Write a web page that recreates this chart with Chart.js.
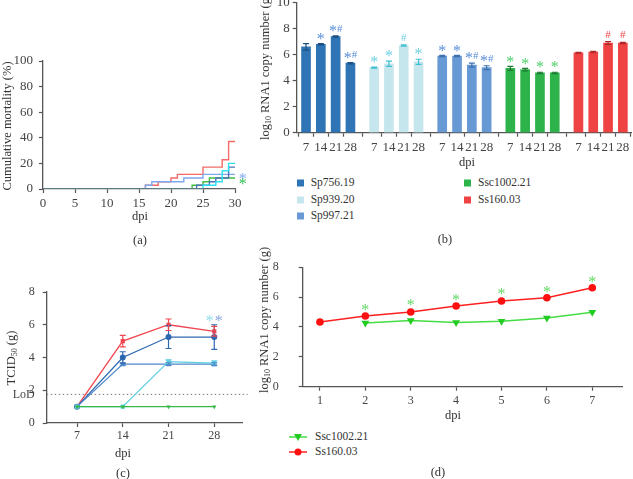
<!DOCTYPE html>
<html>
<head>
<meta charset="utf-8">
<script src="https://cdn.jsdelivr.net/npm/chart.js@4.4.1/dist/chart.umd.min.js"></script>
<style>
  body { margin: 0; width: 633px; height: 479px; overflow: hidden; position: relative; background: #fff;
         font-family: "Liberation Serif", "DejaVu Serif", serif; color: #333; }
  canvas { position: absolute; }
  .t { position: absolute; white-space: nowrap; font-size: 12.5px; transform: translate(-50%, -50%); line-height: 1; }
  .rot { transform: translate(-50%, -50%) rotate(-90deg); }
  .t sub { font-size: 8px; vertical-align: -2px; }
  .leg { position: absolute; font-size: 11.5px; white-space: nowrap; line-height: 1; transform: translateY(-50%); }
  .sq { position: absolute; width: 7px; height: 7px; transform: translateY(-50%); }
</style>
</head>
<body>
<canvas id="chartA" width="250" height="185" style="left:0;top:45px"></canvas>
<canvas id="chartB" width="383" height="180" style="left:250px;top:-10px"></canvas>
<canvas id="chartC" width="250" height="180" style="left:0;top:270px"></canvas>
<canvas id="chartD" width="373" height="175" style="left:260px;top:240px"></canvas>

<!-- axis titles and panel labels -->
<div class="t rot" style="left:7px;top:126px">Cumulative mortality (%)</div>
<div class="t" style="left:140px;top:216px">dpi</div>
<div class="t" style="left:140px;top:240px">(a)</div>

<div class="t rot" style="left:266px;top:67px">log<sub>10</sub> RNA1 copy number (g)</div>
<div class="t" style="left:467px;top:162px">dpi</div>
<div class="t" style="left:445px;top:239px">(b)</div>

<div class="t rot" style="left:12px;top:358px">TCID<sub>50</sub> (g)</div>
<div class="t" style="left:123px;top:453px">dpi</div>
<div class="t" style="left:123px;top:473px">(c)</div>

<div class="t rot" style="left:265px;top:320px">log<sub>10</sub> RNA1 copy number (g)</div>
<div class="t" style="left:453px;top:415px">dpi</div>
<div class="t" style="left:438px;top:472px">(d)</div>

<div id="legendB"></div>
<div id="legendD"></div>

<script>
// ---- data ----
// (a) cumulative mortality, step points (day, %)
const mortCtrlDays = [0, 30];
const mortCtrlVals = [0, 0];
const mortSsDays = [0, 16, 18, 20, 21, 25, 28, 29, 30];
const mortSsVals = [0, 2.9, 5.7, 8.6, 11.4, 17.1, 22.9, 37.1, 37.1];
const mortSp997Days = [0, 16, 17, 22, 25, 30];
const mortSp997Vals = [0, 2.9, 5.7, 8.6, 11.4, 11.4];
const mortSp756Days = [0, 24, 26, 27, 29, 30];
const mortSp756Vals = [0, 2.9, 5.7, 8.6, 17.1, 17.1];
const mortSp939Days = [0, 25, 27, 28, 29, 30];
const mortSp939Vals = [0, 2.9, 5.7, 14.3, 20.0, 20.0];
const mortSscDays = [0, 23.3, 25, 26, 30];
const mortSscVals = [0, 2.9, 5.7, 8.6, 8.6];
const mortStarVals = [9.9, 5.7];   // blue and green asterisks at day 31

// (b) RNA1 copies per strain at 7/14/21/28 dpi
const strains = ['Sp756.19', 'Sp939.20', 'Sp997.21', 'Ssc1002.21', 'Ss160.03'];
const bDays = ['7', '14', '21', '28'];
const bSp756 = [6.6, 6.8, 7.4, 5.35];
const bSp756Err = [0.25, 0.05, 0.05, 0.05];
const bSp939 = [5.0, 5.3, 6.7, 5.45];
const bSp939Err = [0.04, 0.2, 0.05, 0.2];
const bSp997 = [5.9, 5.9, 5.2, 5.0];
const bSp997Err = [0.05, 0.05, 0.15, 0.15];
const bSsc = [4.95, 4.85, 4.6, 4.6];
const bSscErr = [0.15, 0.1, 0.05, 0.05];
const bSs = [6.15, 6.2, 6.9, 6.9];
const bSsErr = [0.03, 0.05, 0.1, 0.05];
const bSp756Marks = ['', '*', '*#', '*#'];
const bSp939Marks = ['*', '*', '#', '*'];
const bSp997Marks = ['*', '*', '*#', '*#'];
const bSscMarks = ['*', '*', '*', '*'];
const bSsMarks = ['', '', '#', '#'];

// (c) TCID50
const cDays = [7, 14, 21, 28];
const cSs = [1, 5.0, 6.0, 5.6];
const cSsErr = [0, 0.35, 0.35, 0.3];
const cSp756 = [1, 4.0, 5.25, 5.25];
const cSp756Err = [0, 0.35, 0.7, 0.75];
const cSp997 = [1, 3.6, 3.6, 3.6];
const cSp997Err = [0, 0.08, 0.08, 0.08];
const cSp939 = [1, 1, 3.75, 3.65];
const cSp939Err = [0, 0, 0.1, 0.15];
const cSsc = [1, 1, 1, 1];
const cLoD = 1.75;
const cStarVal = 6.35;

// (d) RNA1 copies, days 1-7
const dDays = [1, 2, 3, 4, 5, 6, 7];
const dSsc = [null, 4.27, 4.44, 4.29, 4.38, 4.6, 4.98];
const dSs = [4.33, 4.73, 5.0, 5.4, 5.74, 5.95, 6.62];
const dStars = [null, 5.3, 5.61, 5.97, 6.32, 6.51, 7.18];

// ---- common styling ----
Chart.defaults.font.family = '"Liberation Serif", "DejaVu Serif", serif';
Chart.defaults.color = '#444';
Chart.defaults.animation = false;
const AXIS = '#555';

function pts(xs, ys) {
  return xs.map((x, i) => ({ x: x, y: ys[i] }));
}

// linear axis with fixed box size so the plot area lands where we want it
function axis(o) {
  return {
    type: 'linear',
    min: o.min, max: o.max,
    offset: false,
    afterFit: s => { if (o.width) s.width = o.width; if (o.height) s.height = o.height; },
    afterBuildTicks: o.tickVals ? (s => { s.ticks = o.tickVals.map(v => ({ value: v })); }) : undefined,
    ticks: {
      stepSize: o.step, padding: o.pad, font: { size: o.font || 13 }, autoSkip: false, maxRotation: 0,
      callback: o.labels ? ((v, i) => o.labels[i]) : (v => v)
    },
    grid: { display: true, drawOnChartArea: false, drawTicks: true, tickLength: 4, tickWidth: 1.2, tickColor: AXIS },
    border: { display: true, color: AXIS, width: 1.3 }
  };
}

// asterisks drawn bigger than the '#' so they read like the figure
function drawMark(ctx, text, x, y, color) {
  ctx.save();
  ctx.fillStyle = color;
  ctx.textBaseline = 'middle';
  ctx.textAlign = 'left';
  const chars = text.split('');
  const fonts = chars.map(c => c === '*' ? '16px "Liberation Serif", serif' : '11px "Liberation Serif", serif');
  const widths = chars.map((c, i) => { ctx.font = fonts[i]; return ctx.measureText(c).width; });
  let cx = x - widths.reduce((a, b) => a + b, 0) / 2;
  chars.forEach((c, i) => {
    ctx.font = fonts[i];
    ctx.fillText(c, cx, c === '*' ? y + 3 : y);
    cx += widths[i];
  });
  ctx.restore();
}

// error bars + text marks from dataset.errors / dataset.marks
const errorBars = {
  id: 'errorBars',
  afterDatasetsDraw(chart) {
    const ctx = chart.ctx, ys = chart.scales.y;
    chart.data.datasets.forEach((ds, i) => {
      const meta = chart.getDatasetMeta(i);
      meta.data.forEach((el, j) => {
        const p = ds.data[j];
        if (!p || p.y == null) return;
        const e = ds.errors ? ds.errors[j] : 0;
        const top = ys.getPixelForValue(p.y + e);
        if (e) {
          const bot = ys.getPixelForValue(p.y - e);
          ctx.save();
          ctx.strokeStyle = ds.errorColor || ds.borderColor;
          ctx.lineWidth = 1.2;
          ctx.beginPath();
          ctx.moveTo(el.x, top); ctx.lineTo(el.x, bot);
          ctx.moveTo(el.x - 3, top); ctx.lineTo(el.x + 3, top);
          ctx.moveTo(el.x - 3, bot); ctx.lineTo(el.x + 3, bot);
          ctx.stroke();
          ctx.restore();
        }
        if (ds.marks && ds.marks[j]) {
          drawMark(ctx, ds.marks[j], el.x, top - 7, ds.markColor);
        }
      });
    });
  }
};

// ---- (a) cumulative mortality ----
function stepSet(days, vals, color) {
  return { data: pts(days, vals), borderColor: color, borderWidth: 1.4, pointRadius: 0, stepped: true, fill: false };
}
new Chart(document.getElementById('chartA'), {
  type: 'line',
  data: {
    datasets: [
      stepSet(mortCtrlDays, mortCtrlVals, '#666'),
      stepSet(mortSp939Days, mortSp939Vals, '#2fe0f0'),
      stepSet(mortSp756Days, mortSp756Vals, '#4d72b8'),
      stepSet(mortSp997Days, mortSp997Vals, '#7ea8ee'),
      stepSet(mortSsDays, mortSsVals, '#f46a6a'),
      stepSet(mortSscDays, mortSscVals, '#3cc040')
    ]
  },
  options: {
    responsive: false,
    layout: { padding: { left: 0, right: 15, top: 16, bottom: 21 } },
    plugins: { legend: { display: false }, tooltip: { enabled: false } },
    scales: {
      x: axis({ min: 0, max: 30, step: 5, pad: 3, height: 20 }),
      y: axis({ min: 0, max: 100, step: 20, pad: 6, width: 43 })
    }
  },
  plugins: [{
    id: 'mortStars',
    afterDraw(chart) {
      const x = chart.scales.x.getPixelForValue(31.2), y = chart.scales.y;
      drawMark(chart.ctx, '*', x, y.getPixelForValue(mortStarVals[0]), '#86a8ee');
      drawMark(chart.ctx, '*', x, y.getPixelForValue(mortStarVals[1]), '#33bb55');
    }
  }]
});

// ---- (b) bars ----
const GROUP_STEP = 4.6;
const bColors = ['#2f74b5', '#c6e6ee', '#6799d5', '#2db34a', '#ef4242'];
const bMarkColors = ['#5b8fd8', '#6fd0e2', '#5b8fd8', '#4fcf6a', '#ee4444'];
const bErrColors = ['#1f4f80', '#3cbfd0', '#3d6fae', '#1d7a33', '#b02828'];
const bVals = [bSp756, bSp939, bSp997, bSsc, bSs];
const bErrs = [bSp756Err, bSp939Err, bSp997Err, bSscErr, bSsErr];
const bMarks = [bSp756Marks, bSp939Marks, bSp997Marks, bSscMarks, bSsMarks];
const bPos = [];
strains.forEach((s, g) => bDays.forEach((d, j) => bPos.push(g * GROUP_STEP + j)));

new Chart(document.getElementById('chartB'), {
  type: 'bar',
  data: {
    datasets: strains.map((s, g) => ({
      label: s,
      data: bDays.map((d, j) => ({ x: g * GROUP_STEP + j, y: bVals[g][j] })),
      backgroundColor: bColors[g],
      borderColor: bColors[g],
      errors: bErrs[g],
      errorColor: bErrColors[g],
      marks: bMarks[g],
      markColor: bMarkColors[g],
      barThickness: 9,
      grouped: false
    }))
  },
  options: {
    responsive: false,
    layout: { padding: { left: 0, right: 2, top: 12.7, bottom: 17.3 } },
    plugins: { legend: { display: false }, tooltip: { enabled: false } },
    scales: {
      x: axis({ min: -0.63, max: 21.95, pad: 3, height: 20, tickVals: bPos,
                labels: bPos.map((p, i) => bDays[i % 4]) }),
      y: axis({ min: 0, max: 10, step: 2, pad: 3, width: 46.7 })
    }
  },
  plugins: [errorBars]
});

// legend for (b), two columns
const legB = document.getElementById('legendB');
const legRows = [[296.7, 183], [296.7, 199.5], [296.7, 216], [464, 183], [464, 199.5]];
strains.forEach((s, i) => {
  const [lx, ly] = legRows[i];
  legB.innerHTML += '<div class="sq" style="left:' + lx + 'px;top:' + ly + 'px;background:' + bColors[i] + '"></div>' +
    '<div class="leg" style="left:' + (lx + 14) + 'px;top:' + ly + 'px">' + s + '</div>';
});

// ---- (c) TCID50 ----
function lineSet(vals, errs, color, style, radius) {
  return {
    data: pts(cDays, vals), errors: errs, borderColor: color, backgroundColor: color, borderWidth: 1.3,
    pointStyle: style, pointRadius: radius, pointBorderWidth: 0, pointRotation: style === 'triangle' ? 180 : 0
  };
}
new Chart(document.getElementById('chartC'), {
  type: 'line',
  data: {
    datasets: [
      lineSet(cSsc, null, '#36b84a', 'triangle', 2.5),
      lineSet(cSp939, cSp939Err, '#62cfe2', 'rect', 3),
      lineSet(cSp997, cSp997Err, '#4f86c8', 'rect', 3),
      lineSet(cSp756, cSp756Err, '#2d68b0', 'circle', 3),
      lineSet(cSs, cSsErr, '#f04650', 'rect', 3)
    ]
  },
  options: {
    responsive: false,
    layout: { padding: { left: 0, right: 7.3, top: 22, bottom: 7 } },
    plugins: { legend: { display: false }, tooltip: { enabled: false } },
    scales: {
      x: axis({ min: 2.36, max: 32.35, pad: 2, height: 20, font: 12, tickVals: cDays }),
      y: axis({ min: 0, max: 8, step: 2, pad: 8, width: 46.7, font: 12 })
    }
  },
  plugins: [errorBars, {
    id: 'lod',
    beforeDatasetsDraw(chart) {
      const ctx = chart.ctx, a = chart.chartArea;
      const y = chart.scales.y.getPixelForValue(cLoD);
      ctx.save();
      ctx.strokeStyle = '#777';
      ctx.lineWidth = 1;
      ctx.setLineDash([1.5, 2.5]);
      ctx.beginPath();
      ctx.moveTo(a.left, y); ctx.lineTo(a.right + 5, y);
      ctx.stroke();
      ctx.restore();
      ctx.save();
      ctx.fillStyle = '#444';
      ctx.font = '12px "Liberation Serif", serif';
      ctx.textAlign = 'right';
      ctx.textBaseline = 'middle';
      ctx.fillText('LoD', a.left - 12, y);
      ctx.restore();
    },
    afterDraw(chart) {
      const x = chart.scales.x.getPixelForValue(cDays[3]);
      const y = chart.scales.y.getPixelForValue(cStarVal);
      drawMark(chart.ctx, '*', x - 4.5, y, '#8fdcef');
      drawMark(chart.ctx, '*', x + 4.5, y, '#8aa6e0');
    }
  }]
});

// ---- (d) RNA1 copies ----
new Chart(document.getElementById('chartD'), {
  type: 'line',
  data: {
    datasets: [
      { label: 'Ssc1002.21', data: pts(dDays, dSsc), borderColor: '#44dd44', backgroundColor: '#22cc22',
        borderWidth: 1.5, pointStyle: 'triangle', pointRotation: 180, pointRadius: 4.5, pointBorderWidth: 0 },
      { label: 'Ss160.03', data: pts(dDays, dSs), borderColor: '#ff2020', backgroundColor: '#ff1010',
        borderWidth: 1.5, pointStyle: 'circle', pointRadius: 3.8, pointBorderWidth: 0 }
    ]
  },
  options: {
    responsive: false,
    layout: { padding: { left: 0, right: 10.3, top: 19.3, bottom: 8.3 } },
    plugins: { legend: { display: false }, tooltip: { enabled: false } },
    scales: {
      x: axis({ min: 0.62, max: 7.67, pad: 3, height: 20, font: 12, tickVals: dDays }),
      y: axis({ min: 0, max: 8, step: 2, pad: 20, width: 42.7, font: 12 })
    }
  },
  plugins: [{
    id: 'dStars',
    afterDraw(chart) {
      dDays.forEach((d, i) => {
        if (dStars[i] == null) return;
        drawMark(chart.ctx, '*', chart.scales.x.getPixelForValue(d), chart.scales.y.getPixelForValue(dStars[i]), '#66d866');
      });
    }
  }]
});

// legend for (d): line with marker
document.getElementById('legendD').innerHTML =
  '<svg style="position:absolute;left:288px;top:431px" width="20" height="28">' +
  '<line x1="1" y1="6" x2="19" y2="6" stroke="#44dd44" stroke-width="1.5"/>' +
  '<polygon points="6,3 14,3 10,10" fill="#22cc22"/>' +
  '<line x1="1" y1="21" x2="19" y2="21" stroke="#ff2020" stroke-width="1.5"/>' +
  '<circle cx="10" cy="21" r="3.5" fill="#ff1010"/></svg>' +
  '<div class="leg" style="left:315px;top:437px">Ssc1002.21</div>' +
  '<div class="leg" style="left:315px;top:452px">Ss160.03</div>';
</script>
</body>
</html>
